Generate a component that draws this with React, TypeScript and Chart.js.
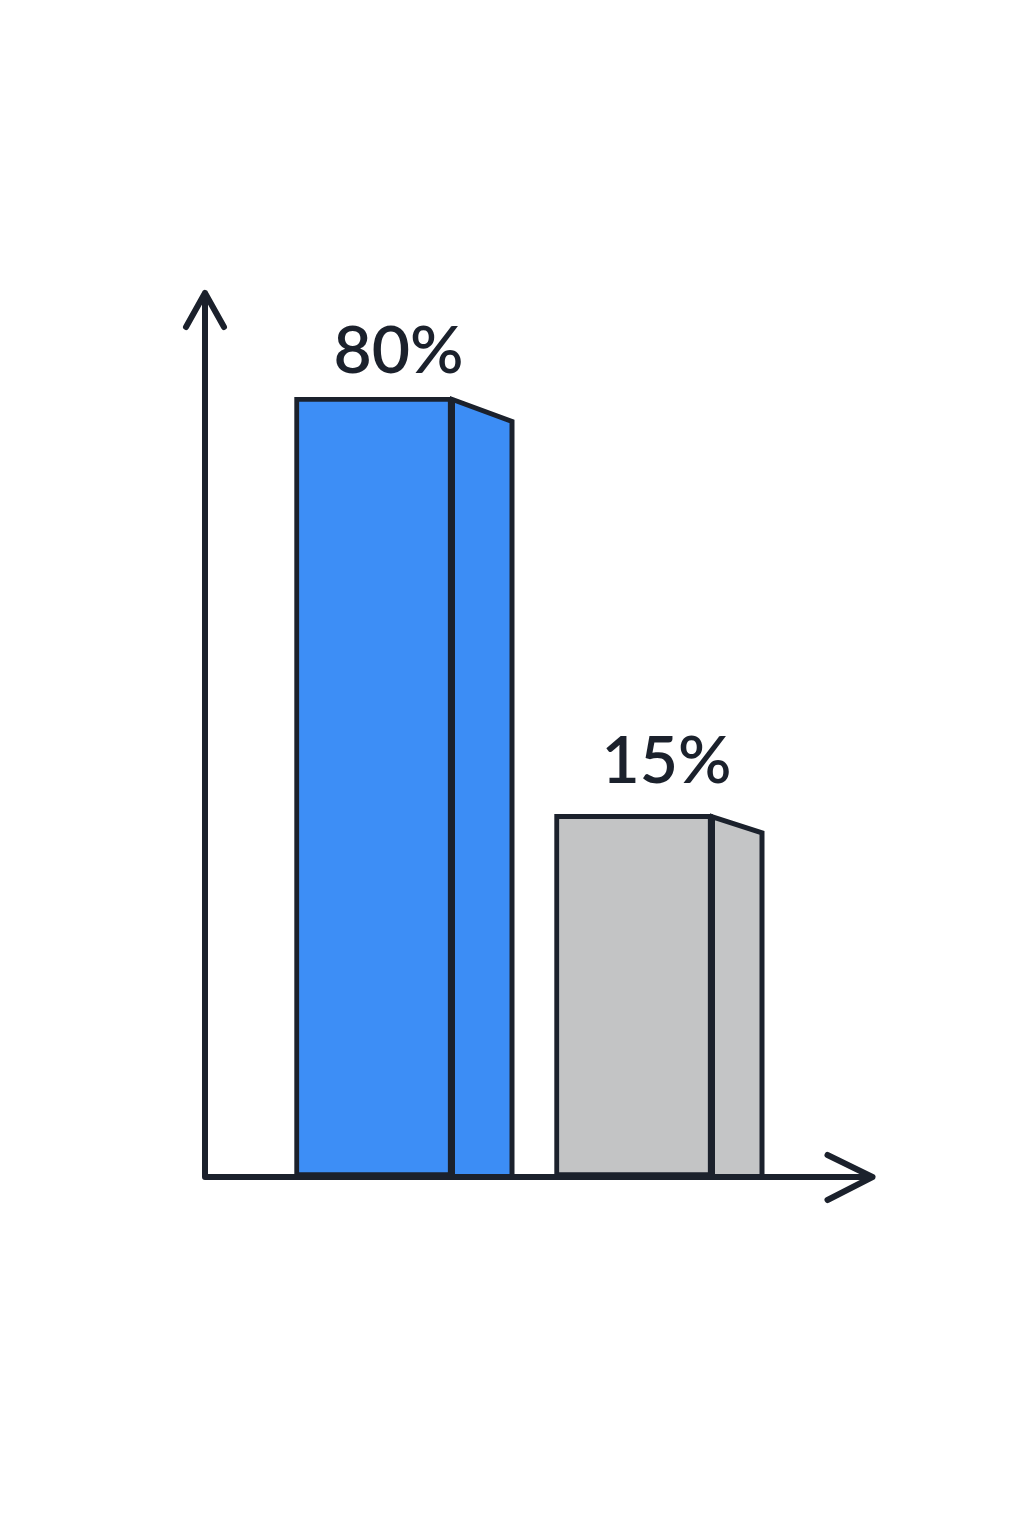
import React, { useEffect, useRef } from "react";
import { Chart, registerables } from "chart.js";

Chart.register(...registerables);

const categories = ["A", "B"];
const values = [80, 15];
const valueLabels = ["80%", "15%"];

const INK = "#1b212c";
const frontColors = ["#3d8ef6", "#c3c4c5"];
const sideColors = ["#3c8df5", "#c4c5c6"];
const sideDepth = [62, 52];
const sideDrop = [22, 16];
const labelDx = [25, 33];
const labelGap = [24, 31];

const decorPlugin = {
  id: "decor",
  afterDatasetsDraw(chart: any) {
    const ctx = chart.ctx as CanvasRenderingContext2D;
    const meta = chart.getDatasetMeta(0);
    const area = chart.chartArea;
    meta.data.forEach((bar: any, i: number) => {
      const props = bar.getProps(["x", "y", "width", "base"], true);
      const right = props.x + props.width / 2;
      const top = props.y;
      const base = props.base;
      const d = sideDepth[i];
      const dr = sideDrop[i];
      ctx.save();
      ctx.beginPath();
      ctx.moveTo(right, top + 2.5);
      ctx.lineTo(right + d - 2.5, top + dr + 2.5);
      ctx.lineTo(right + d - 2.5, base);
      ctx.lineTo(right, base);
      ctx.closePath();
      ctx.fillStyle = sideColors[i];
      ctx.fill();
      ctx.lineWidth = 5;
      ctx.strokeStyle = INK;
      ctx.lineJoin = "miter";
      ctx.stroke();
      ctx.restore();

      ctx.save();
      ctx.fillStyle = INK;
      ctx.font = "600 66px Lato, 'Open Sans', sans-serif";
      ctx.textAlign = "center";
      ctx.textBaseline = "alphabetic";
      ctx.fillText(valueLabels[i], props.x + labelDx[i], top - labelGap[i]);
      ctx.restore();
    });

    // axes with arrows
    const ox = area.left - 38.5;
    const oy = area.bottom;
    ctx.save();
    ctx.strokeStyle = INK;
    ctx.lineWidth = 6;
    ctx.lineCap = "round";
    ctx.lineJoin = "round";
    ctx.beginPath();
    ctx.moveTo(ox, oy);
    ctx.lineTo(ox, area.top - 104);
    ctx.moveTo(ox - 19, area.top - 70);
    ctx.lineTo(ox, area.top - 104);
    ctx.lineTo(ox + 19, area.top - 70);
    ctx.moveTo(ox, oy);
    ctx.lineTo(area.right + 109, oy);
    ctx.moveTo(area.right + 64, oy - 22);
    ctx.lineTo(area.right + 109, oy);
    ctx.lineTo(area.right + 64, oy + 23);
    ctx.stroke();
    ctx.restore();
  },
};

export default function App() {
  const ref = useRef<HTMLCanvasElement | null>(null);
  useEffect(() => {
    document.body.style.margin = "0";
    const canvas = ref.current!;
    const chart = new Chart(canvas, {
      type: "bar",
      data: {
        labels: categories,
        datasets: [
          {
            data: values,
            backgroundColor: frontColors,
            borderColor: INK,
            borderWidth: 5,
            borderSkipped: false,
            barThickness: 158,
          },
        ],
      },
      options: {
        responsive: false,
        animation: false,
        devicePixelRatio: 1,
        layout: { padding: { left: 243.5, right: 260.5, top: 397, bottom: 359 } },
        plugins: { legend: { display: false }, tooltip: { enabled: false } },
        scales: {
          x: { display: false, offset: true },
          y: { type: "logarithmic", display: false, min: 3.5, max: 80 },
        },
      },
      plugins: [decorPlugin],
    });
    return () => chart.destroy();
  }, []);
  return (
    <div style={{ position: "absolute", left: 0, top: 0, width: 1024, height: 1536, background: "#fff" }}>
      <canvas ref={ref} width={1024} height={1536} />
    </div>
  );
}
